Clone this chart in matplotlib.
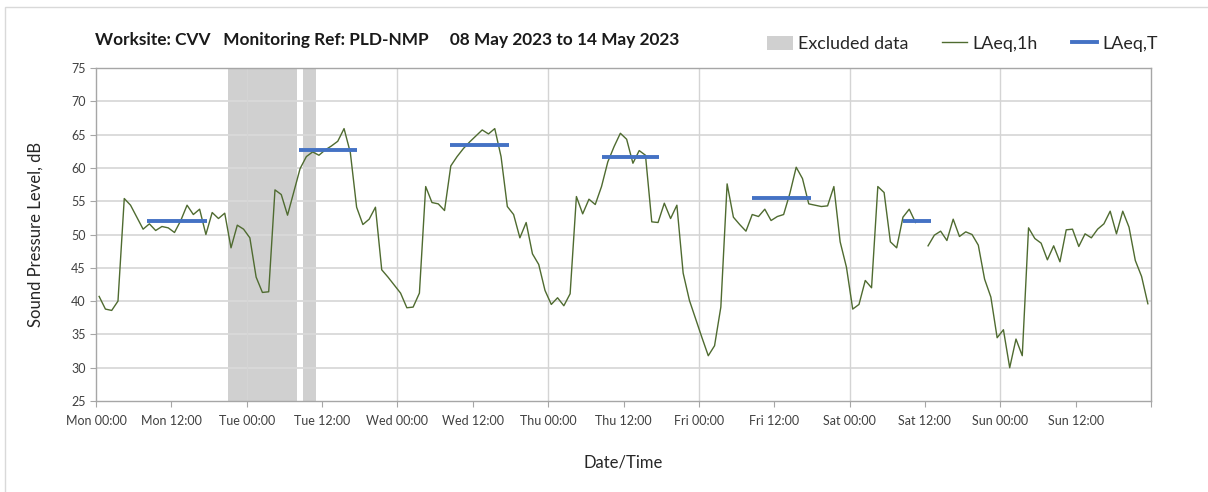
import matplotlib
matplotlib.use("Agg")
import matplotlib.pyplot as plt
import numpy as np
from matplotlib.patches import Rectangle, Patch
from matplotlib.lines import Line2D

plt.rcParams['font.family'] = ['Lato', 'DejaVu Sans']

# hourly LAeq,1h values, Mon 00:00 .. Sun 23:00 (nan = no data)
laeq_1h = [
    40.7, 38.8, 38.6, 40.0, 55.4, 54.4, 52.6, 50.8, 51.6, 50.6, 51.2, 51.0,
    50.3, 52.1, 54.4, 53.0, 53.8, 50.0, 53.3, 52.4, 53.2, 48.0, 51.4, 50.8,
    49.5, 43.6, 41.3, 41.4, 56.7, 56.0, 52.9, 56.4, 59.9, 61.7, 62.4, 61.9,
    62.7, 63.3, 64.0, 65.9, 62.3, 54.1, 51.5, 52.3, 54.1, 44.7, 43.6, 42.4,
    41.2, 39.0, 39.1, 41.2, 57.2, 54.8, 54.6, 53.6, 60.3, 61.7, 62.9, 63.9,
    64.8, 65.7, 65.1, 65.9, 61.7, 54.2, 53.0, 49.5, 51.8, 47.1, 45.5, 41.6,
    39.5, 40.5, 39.3, 41.1, 55.7, 53.1, 55.3, 54.5, 57.2, 60.9, 63.2, 65.2,
    64.3, 60.7, 62.6, 61.9, 51.9, 51.8, 54.7, 52.4, 54.4, 44.2, 40.1, 37.3,
    34.5, 31.8, 33.3, 39.1, 57.6, 52.6, 51.5, 50.5, 53.0, 52.7, 53.8, 52.1,
    52.7, 53.0, 56.2, 60.1, 58.4, 54.6, 54.4, 54.2, 54.3, 57.2, 48.9, 45.1,
    38.8, 39.5, 43.1, 42.0, 57.2, 56.3, 48.9, 48.0, 52.6, 53.8, 51.8, np.nan,
    48.3, 49.9, 50.5, 49.1, 52.3, 49.7, 50.4, 50.0, 48.4, 43.3, 40.6, 34.5,
    35.7, 30.0, 34.3, 31.8, 51.0, 49.4, 48.7, 46.2, 48.3, 45.9, 50.7, 50.8,
    48.2, 50.1, 49.5, 50.8, 51.6, 53.5, 50.1, 53.5, 51.1, 46.1, 43.7, 39.6,
]

# LAeq,T daytime periods (hours from Mon 00:00)
lt_start = [8.2, 32.4, 56.3, 80.5, 104.5, 128.5]
lt_end = [17.6, 41.6, 65.7, 89.6, 113.8, 132.9]
lt_val = [52.1, 62.7, 63.5, 61.7, 55.5, 52.1]

# excluded data windows (hours)
excl_start = [21, 33]
excl_end = [32, 35]

days = ['Mon', 'Tue', 'Wed', 'Thu', 'Fri', 'Sat', 'Sun']
tick_labels = [d + ' ' + t for d in days for t in ['00:00', '12:00']]

fig = plt.figure(figsize=(12.08, 4.92), dpi=100)
ax = fig.add_axes([96/1208, 1 - 401/492, 1055/1208, 333/492])

# outer chart border
fig.patches.append(Rectangle((5/1208, -0.1), 1.2, 1 - 7/492 + 0.1,
                             transform=fig.transFigure, fill=False,
                             edgecolor='#d9d9d9', linewidth=1.0))

x = np.arange(len(laeq_1h)) + 0.5

for s, e in zip(excl_start, excl_end):
    ax.axvspan(s, e, color='#d0d0d0', lw=0, zorder=0)

ax.plot(x, laeq_1h, color='#4f6b30', lw=1.0, zorder=3)
ax.hlines(lt_val, lt_start, lt_end, color='#4472c4', lw=2.8, zorder=4)

ax.set_xlim(0, 168)
ax.set_ylim(25, 75)
ax.set_yticks(np.arange(25, 76, 5))
ax.set_xticks(np.arange(0, 169, 12))
ax.set_xticklabels(tick_labels + [''])

# gridlines: horizontal every 5 dB, vertical every day
for yv in np.arange(30, 75, 5):
    ax.axhline(yv, color='#d9d9d9', lw=1.3, zorder=1)
for xv in np.arange(24, 168, 24):
    ax.axvline(xv, color='#d4d4d4', lw=1.0, zorder=1)

for sp in ax.spines.values():
    sp.set_color('#a6a6a6')
    sp.set_linewidth(1.0)
ax.tick_params(axis='both', colors='#a6a6a6', labelcolor='#404040',
               labelsize=9, length=4, direction='out')
ax.tick_params(axis='x', pad=6)

ax.set_ylabel('Sound Pressure Level, dB', fontsize=12, color='#262626', labelpad=20)
ax.set_xlabel('Date/Time', fontsize=12, color='#262626', labelpad=20)

fig.text(95/1208, 1 - 40/492,
         'Worksite: CVV   Monitoring Ref: PLD-NMP     08 May 2023 to 14 May 2023',
         fontsize=12.4, fontweight='bold', color='#1a1a1a', va='center', ha='left')

handles = [Patch(facecolor='#d0d0d0', edgecolor='none'),
           Line2D([], [], color='#4f6b30', lw=1.0),
           Line2D([], [], color='#4472c4', lw=2.8)]
fig.legend(handles, ['Excluded data', 'LAeq,1h', 'LAeq,T'], ncol=3,
           loc='center right', bbox_to_anchor=(1158/1208, 1 - 44/492),
           frameon=False, fontsize=12.9, handlelength=1.4, handleheight=0.8,
           handletextpad=0.3, columnspacing=1.9, borderpad=0, borderaxespad=0,
           labelcolor='#262626')

fig.savefig('out.png', dpi=100, facecolor='white')
